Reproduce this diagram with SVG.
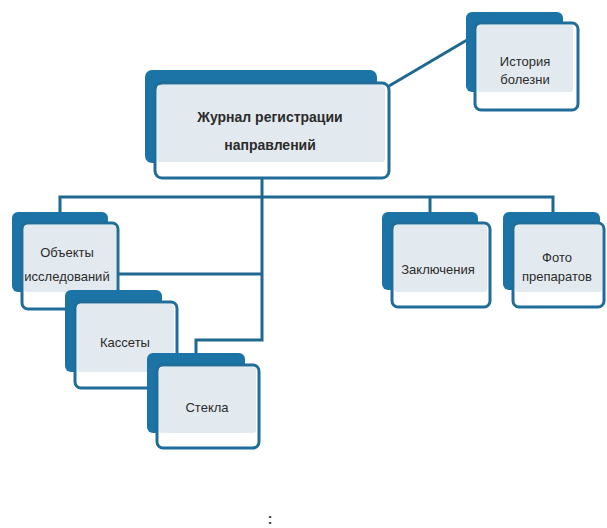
<svg xmlns="http://www.w3.org/2000/svg" width="607" height="528" viewBox="0 0 607 528">
<style>
.back{fill:#1b73a6}
.front{fill:#ffffff;stroke:#1f6d98;stroke-width:3}
.fill{fill:#e3eaef}
.lbl{font-family:"Liberation Sans",Arial,sans-serif;font-size:13px;fill:#2b2b2b;text-anchor:middle}
.main{font-size:14px;font-weight:bold}
.conn{fill:none;stroke:#1f6890;stroke-width:3}
</style>
<rect width="607" height="528" fill="#ffffff"/>
<g id="connectors">
<path class="conn" d="M389,86 L467,40"/>
<path class="conn" d="M262,178 L262,340 L196,340 L196,353"/>
<path class="conn" d="M60,212 L60,197 L553,197 L553,212"/>
<path class="conn" d="M430,197 L430,212"/>
<path class="conn" d="M118,274 L262,274"/>
</g>
<g id="n-istoriya">
<rect class="back" x="466" y="12" width="97" height="80" rx="6"/>
<rect class="front" x="475" y="23" width="103" height="87" rx="6"/>
<rect class="fill" x="477" y="25" width="96" height="67" rx="3"/>
<text class="lbl" x="525" y="66">История</text>
<text class="lbl" x="525" y="84">болезни</text>
</g>
<g id="n-zhurnal">
<rect class="back" x="145" y="70" width="232" height="93" rx="7"/>
<rect class="front" x="155" y="83" width="234" height="95" rx="7"/>
<rect class="fill" x="157" y="85" width="228" height="77" rx="3"/>
<text class="lbl main" x="270" y="122">Журнал регистрации</text>
<text class="lbl main" x="270" y="150">направлений</text>
</g>
<g id="n-obekty">
<rect class="back" x="12" y="212" width="96" height="80" rx="6"/>
<rect class="front" x="22" y="223" width="96" height="86" rx="6"/>
<rect class="fill" x="24" y="225" width="92" height="67" rx="3"/>
<text class="lbl" x="67" y="257">Объекты</text>
<text class="lbl" x="67" y="281">исследований</text>
</g>
<g id="n-kassety">
<rect class="back" x="65" y="290" width="97" height="82" rx="6"/>
<rect class="front" x="75" y="302" width="102" height="86" rx="6"/>
<rect class="fill" x="77" y="304" width="97" height="68" rx="3"/>
<text class="lbl" x="125" y="347">Кассеты</text>
</g>
<g id="n-stekla">
<rect class="back" x="147" y="353" width="98" height="80" rx="6"/>
<rect class="front" x="157" y="365" width="102" height="83" rx="6"/>
<rect class="fill" x="159" y="367" width="97" height="66" rx="3"/>
<text class="lbl" x="207" y="412">Стекла</text>
</g>
<g id="n-zaklyucheniya">
<rect class="back" x="382" y="212" width="96" height="78" rx="6"/>
<rect class="front" x="392" y="223" width="98" height="84" rx="6"/>
<rect class="fill" x="394" y="225" width="93" height="67" rx="3"/>
<text class="lbl" x="438" y="274">Заключения</text>
</g>
<g id="n-foto">
<rect class="back" x="503" y="212" width="97" height="78" rx="6"/>
<rect class="front" x="513" y="223" width="91" height="84" rx="6"/>
<rect class="fill" x="515" y="225" width="87" height="67" rx="3"/>
<text class="lbl" x="557" y="262">Фото</text>
<text class="lbl" x="557" y="281">препаратов</text>
</g>
<text x="270" y="524" style="font-family:'Liberation Sans',Arial,sans-serif;font-size:14px;font-weight:bold;fill:#333;text-anchor:middle">:</text>
</svg>
